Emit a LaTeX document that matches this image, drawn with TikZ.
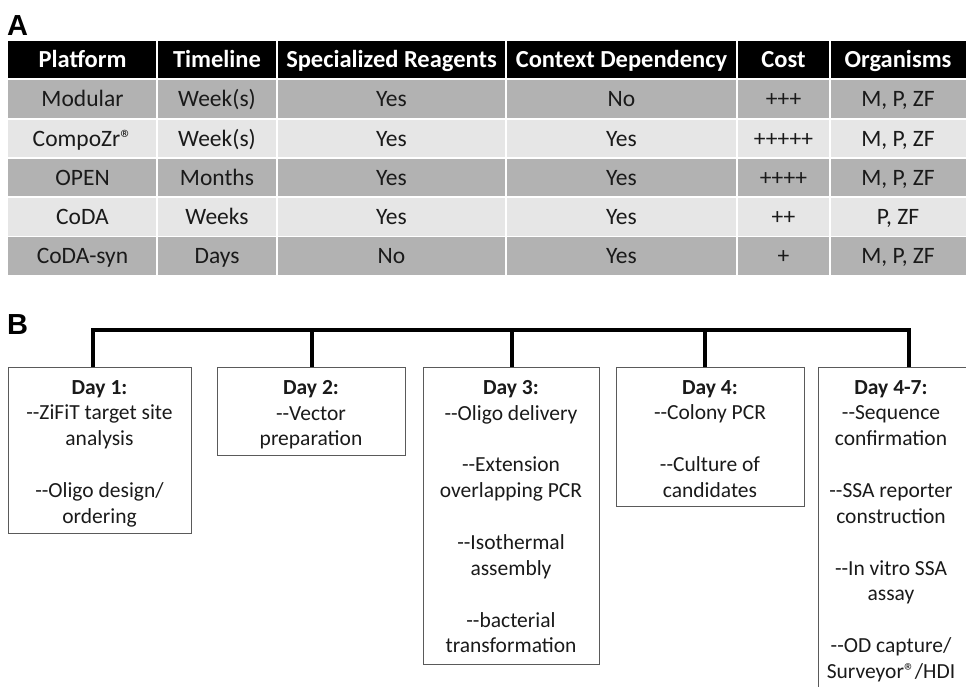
\documentclass[tikz,border=0pt]{standalone}
\usepackage{fontspec}
\setmainfont{Carlito}
\newfontfamily\labelfont{Liberation Sans}
\definecolor{rowdark}{HTML}{B2B2B2}
\definecolor{rowlight}{HTML}{E6E6E6}
\definecolor{txt}{HTML}{1A1A1A}
\definecolor{boxline}{HTML}{5A5A5A}
\newcommand\dd{-{}-}
\newcommand\tablerow[7]{%
  \node[cell] (r#1c1) at (82.5,{107+39.2*(#1-1)}) {#2};
  \node[cell] (r#1c2) at (217,{107+39.2*(#1-1)}) {#3};
  \node[cell] (r#1c3) at (391.5,{107+39.2*(#1-1)}) {#4};
  \node[cell] (r#1c4) at (621.5,{107+39.2*(#1-1)}) {#5};
  \node[cell] (r#1c5) at (783.5,{107+39.2*(#1-1)}) {#6};
  \node[cell] (r#1c6) at (898,{107+39.2*(#1-1)}) {#7};
}
\tikzset{
  panellabel/.style={font=\labelfont\bfseries\fontsize{29}{29}\selectfont, inner sep=0, anchor=base west},
  hdr/.style={font=\bfseries\fontsize{24.5}{24.5}\selectfont, text=white, inner sep=0, anchor=base},
  cell/.style={font=\fontsize{23.5}{23.5}\selectfont, text=txt, inner sep=0, anchor=base},
  daybox/.style={draw=boxline, line width=1.4pt, inner sep=0, anchor=north west},
  daytext/.style={font=\fontsize{21.5}{25.8}\selectfont, text=txt, align=center, inner sep=0, anchor=north},
  bar/.style={line width=4pt, black, line join=miter},
}
\begin{document}
\begin{tikzpicture}[x=1pt,y=-1pt]
\useasboundingbox (0,0) rectangle (966,687);
\clip (0,0) rectangle (966,687);

% ---------- Panel A ----------
\node[panellabel] (labA) at (7,36) {A};
\fill[black] (8,41) rectangle (966,78);
\foreach \i/\c in {0/rowdark,1/rowlight,2/rowdark,3/rowlight,4/rowdark}
  \fill[\c] (8,{80.5+39.2*\i}) rectangle (966,{118+39.2*\i});
\foreach \x in {157,277,506,737,830}
  \draw[white, line width=2.5pt] (\x,41) -- (\x,276);

\node[hdr] (h1) at (82.5,68) {Platform};
\node[hdr] (h2) at (217,68) {Timeline};
\node[hdr] (h3) at (391.5,68) {Specialized Reagents};
\node[hdr] (h4) at (621.5,68) {Context Dependency};
\node[hdr] (h5) at (783.5,68) {Cost};
\node[hdr] (h6) at (898,68) {Organisms};

\tablerow{1}{Modular}{Week(s)}{Yes}{No}{+++}{M, P, ZF}
\tablerow{2}{CompoZr®}{Week(s)}{Yes}{Yes}{+++++}{M, P, ZF}
\tablerow{3}{OPEN}{Months}{Yes}{Yes}{++++}{M, P, ZF}
\tablerow{4}{CoDA}{Weeks}{Yes}{Yes}{++}{P, ZF}
\tablerow{5}{CoDA-syn}{Days}{No}{Yes}{+}{M, P, ZF}

% ---------- Panel B ----------
\node[panellabel] (labB) at (7,334) {B};

\node[daybox, minimum width=183pt, minimum height=166pt] (b1) at (8,367) {};
\node[daybox, minimum width=188pt, minimum height=88pt] (b2) at (217,367) {};
\node[daybox, minimum width=176pt, minimum height=297pt] (b3) at (423,367) {};
\node[daybox, minimum width=188pt, minimum height=139pt] (b4) at (616,367) {};
\node[daybox, minimum width=180pt, minimum height=353pt] (b5) at (818,367) {};

\coordinate (barline) at (0,330);
\draw[bar] ([xshift=-7.5pt]b1.north) -- ([xshift=-7.5pt]b1.north |- barline) -| (b5.north);
\draw[bar] (b2.north) -- (b2.north |- barline);
\draw[bar] (b3.north) -- (b3.north |- barline);
\draw[bar] ([xshift=-6pt]b4.north) -- ([xshift=-6pt]b4.north |- barline);

\node[daytext] (t1) at (99.5,380) {\textbf{Day 1:}\\\dd ZiFiT target site\\analysis\\[26pt]\dd Oligo design/\\ordering};
\node[daytext] (t2) at (311,380) {\textbf{Day 2:}\\\dd Vector\\preparation};
\node[daytext] (t3) at (511,380) {\textbf{Day 3:}\\\dd Oligo delivery\\[26pt]\dd Extension\\overlapping PCR\\[26pt]\dd Isothermal\\assembly\\[26pt]\dd bacterial\\transformation};
\node[daytext] (t4) at (710,380) {\textbf{Day 4:}\\\dd Colony PCR\\[26pt]\dd Culture of\\candidates};
\node[daytext] (t5) at (891,380) {\textbf{Day 4-7:}\\\dd Sequence\\confirmation\\[26pt]\dd SSA reporter\\construction\\[26pt]\dd In vitro SSA\\assay\\[26pt]\dd OD capture/\\Surveyor®/HDI};
\end{tikzpicture}
\end{document}
